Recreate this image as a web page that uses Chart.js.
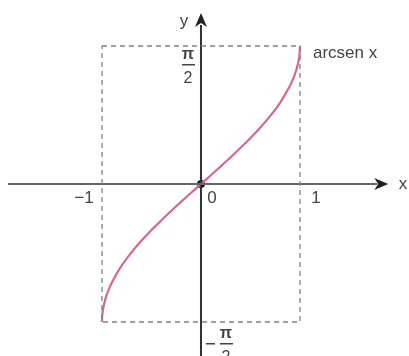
<!DOCTYPE html>
<html lang="es">
<head>
<meta charset="UTF-8">
<title>arcsen x</title>
<script src="https://cdn.jsdelivr.net/npm/chart.js"></script>
<style>
  body { margin: 0; background: #fff; }
  #wrap { width: 409px; height: 356px; position: relative; }
</style>
</head>
<body>
<div id="wrap"><canvas id="chart"></canvas></div>
<script>
// curve points (arcsen x)
const curveX = [-1, -0.995, -0.98, -0.95, -0.9, -0.8, -0.7, -0.6, -0.5, -0.4, -0.3, -0.2, -0.1, 0,
                0.1, 0.2, 0.3, 0.4, 0.5, 0.6, 0.7, 0.8, 0.9, 0.95, 0.98, 0.995, 1];
const curveY = [-1.571, -1.471, -1.371, -1.253, -1.12, -0.927, -0.775, -0.644, -0.524, -0.412, -0.305, -0.201, -0.1, 0,
                0.1, 0.201, 0.305, 0.412, 0.524, 0.644, 0.775, 0.927, 1.12, 1.253, 1.371, 1.471, 1.571];

// dashed box corners
const boxX = [-1, 1, 1, -1, -1];
const boxY = [1.571, 1.571, -1.571, -1.571, 1.571];

// axes extents
const xAxisRange = [-1.95, 1.78];
const yAxisRange = [-2.1, 1.81];

// tick labels
const xTickValues = [-1, 0, 1];
const xTickLabels = ['\u22121', '0', '1'];
const yTickValues = [1.571, -1.571];
const yTickLabels = ['\u03c0/2', '\u2212\u03c0/2'];

const seriesName = 'arcsen x';

const pts = (xs, ys) => xs.map((x, i) => ({ x: x, y: ys[i] }));

const overlay = {
  id: 'overlay',
  afterDatasetsDraw(chart) {
    const ctx = chart.ctx;
    const xs = chart.scales.x, ys = chart.scales.y;
    const ox = xs.getPixelForValue(0), oy = ys.getPixelForValue(0);
    ctx.save();
    // arrow heads
    ctx.fillStyle = '#222';
    const xt = xs.getPixelForValue(xAxisRange[1]);
    ctx.beginPath();
    ctx.moveTo(xt + 11, oy);
    ctx.lineTo(xt - 3, oy - 6);
    ctx.lineTo(xt + 1, oy);
    ctx.lineTo(xt - 3, oy + 6);
    ctx.closePath();
    ctx.fill();
    const yt = ys.getPixelForValue(yAxisRange[1]);
    ctx.beginPath();
    ctx.moveTo(ox, yt - 12);
    ctx.lineTo(ox - 6, yt + 2);
    ctx.lineTo(ox, yt - 2);
    ctx.lineTo(ox + 6, yt + 2);
    ctx.closePath();
    ctx.fill();

    ctx.fillStyle = '#444';
    ctx.textBaseline = 'middle';
    ctx.font = '17px "Liberation Sans", Arial, sans-serif';
    // axis names
    ctx.textAlign = 'center';
    ctx.fillText('x', 403, oy);
    ctx.fillText('y', 184, 21);
    // series label
    ctx.textAlign = 'left';
    ctx.fillText(seriesName, 313, 53);

    // x tick labels
    xTickValues.forEach((v, i) => {
      const px = xs.getPixelForValue(v);
      ctx.textAlign = 'center';
      const dx = v < 0 ? -18 : (v === 0 ? 11 : 16);
      ctx.fillText(xTickLabels[i], px + dx, oy + 14);
    });

    // y tick labels as stacked fractions
    yTickValues.forEach((v, i) => {
      const py = ys.getPixelForValue(v);
      const parts = yTickLabels[i].split('/');
      let num = parts[0];
      const neg = num.startsWith('\u2212');
      if (neg) num = num.slice(1);
      const cx = neg ? ox + 25 : ox - 13;
      const top = neg ? py + 12 : py + 9;
      ctx.textAlign = 'center';
      ctx.font = 'bold 16px "Liberation Sans", Arial, sans-serif';
      ctx.fillText(num, cx, top);
      ctx.font = '16px "Liberation Sans", Arial, sans-serif';
      ctx.fillRect(cx - 6, top + 9, 13, 1.5);
      ctx.fillText(parts[1], cx, top + 24);
      if (neg) ctx.fillRect(cx - 20, top + 9, 9, 1.5);
    });
    ctx.restore();
  }
};

new Chart(document.getElementById('chart'), {
  type: 'scatter',
  data: {
    datasets: [
      {
        data: pts(boxX, boxY),
        showLine: true,
        borderColor: '#7d838a',
        borderWidth: 1.3,
        borderDash: [5, 4],
        pointRadius: 0
      },
      {
        data: pts(xAxisRange, [0, 0]),
        showLine: true,
        borderColor: '#62676d',
        borderWidth: 2,
        pointRadius: 0
      },
      {
        data: pts([0, 0], yAxisRange),
        showLine: true,
        borderColor: '#2e3135',
        borderWidth: 2,
        pointRadius: 0
      },
      {
        label: seriesName,
        data: pts(curveX, curveY),
        showLine: true,
        borderColor: '#d9668f',
        borderWidth: 2.2,
        pointRadius: 0,
        tension: 0.3
      },
      {
        data: [{ x: 0, y: 0 }],
        pointRadius: 4,
        pointBackgroundColor: '#111',
        pointBorderWidth: 0
      }
    ]
  },
  options: {
    responsive: true,
    maintainAspectRatio: false,
    animation: false,
    layout: { padding: 0, autoPadding: false },
    plugins: { legend: { display: false }, tooltip: { enabled: false } },
    scales: {
      x: { type: 'linear', display: false, min: -2.03, max: 2.101 },
      y: { type: 'linear', display: false, min: -1.958, max: 2.0945 }
    }
  },
  plugins: [overlay]
});
</script>
</body>
</html>
